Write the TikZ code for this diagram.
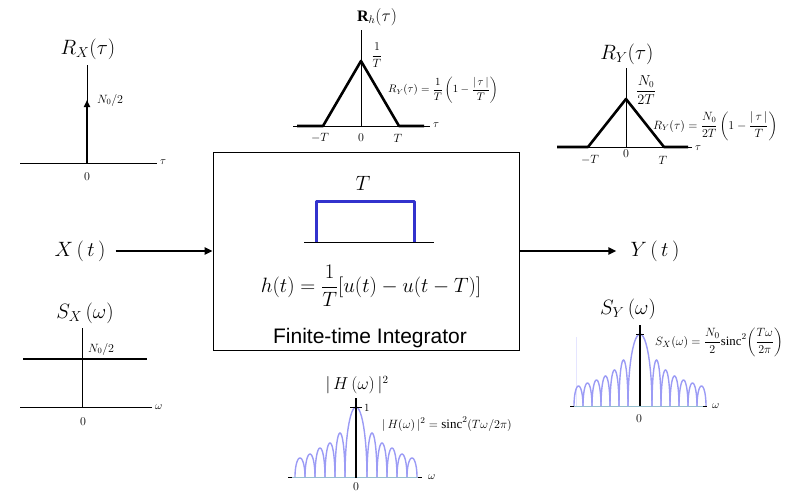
\documentclass[tikz,border=0pt]{standalone}
\usepackage{amsmath}
\usepackage{fontspec}
\setmainfont{Liberation Serif}
\newfontfamily\arialf{Liberation Sans}
\usetikzlibrary{arrows.meta}
\definecolor{lobec}{RGB}{155,155,245}
\definecolor{basec}{RGB}{150,190,205}
\definecolor{pulsec}{RGB}{50,50,205}
\begin{document}
\begin{tikzpicture}[x=1pt,y=-1pt,
  ax/.style={line width=0.8pt},
  thickg/.style={line width=2.6pt, line join=round},
  biglbl/.style={inner sep=0pt, font=\fontsize{20}{24}\selectfont},
  midlbl/.style={inner sep=0pt, font=\fontsize{16}{19}\selectfont},
  small/.style={inner sep=0pt, font=\fontsize{12}{14}\selectfont},
  eqlbl/.style={inner sep=0pt, anchor=west, font=\fontsize{10.5}{12}\selectfont},
  axlbl/.style={inner sep=0pt, anchor=west, font=\fontsize{11}{13}\selectfont},
  sig/.style={line width=2.5pt, -{Triangle[length=8pt,width=7pt]}},
  lobe/.style={draw=lobec, line width=1.4pt}]
\useasboundingbox (0,0) rectangle (798,495);

% ---------- R_X(tau) ----------
\node[biglbl] (rxl) at (88,49) {$R_X(\tau)$};
\coordinate (rxo) at (87,163);
\coordinate (rxt) at (87,65);
\coordinate (rxa) at (20,163);
\coordinate (rxb) at (157,163);
\coordinate (rxp) at (87,100);
\draw[ax] (rxa) -- (rxb);
\draw[ax] (rxo) -- (rxt);
\draw[line width=2.5pt, -{Triangle[length=7pt,width=6pt]}] (rxo) -- (rxp);
\node[small, anchor=west] (rxn) at (97,100) {$N_0/2$};
\node[axlbl] (rxtau) at (160,162) {$\tau$};
\node[small] (rx0) at (87,177) {$0$};

% ---------- R_h(tau) ----------
\node[midlbl] (rhl) at (377,17) {$\mathbf{R}_h(\tau)$};
\coordinate (rha) at (293,126);
\coordinate (rhb) at (430,126);
\coordinate (rhv1) at (361,30);
\coordinate (rhv0) at (361,126);
\draw[ax] (rha) -- (rhb);
\draw[ax] (rhv0) -- (rhv1);
\draw[thickg] (297,126) -- (323,126) -- (361,61) -- (399,126) -- (424,126);
\node[small] (rhpk) at (377,55) {$\dfrac{1}{T}$};
\node[small] (rhm) at (320,138) {$-T$};
\node[small] (rh0) at (361,138) {$0$};
\node[small] (rhp) at (398,138) {$T$};
\node[axlbl] (rhtau) at (433,125) {$\tau$};
\node[eqlbl] (rheq) at (388,90) {$R_Y(\tau)=\dfrac{1}{T}\left(1-\dfrac{|\,\tau\,|}{T}\right)$};

% ---------- R_Y(tau) ----------
\node[biglbl] (ryl) at (627,54) {$R_Y(\tau)$};
\coordinate (rya) at (557,147);
\coordinate (ryb) at (692,147);
\coordinate (ryv1) at (626,68);
\coordinate (ryv0) at (626,147);
\draw[ax] (rya) -- (ryb);
\draw[ax] (ryv0) -- (ryv1);
\draw[thickg] (557,147) -- (588,147) -- (626,99) -- (664,147) -- (688,147);
\node[inner sep=0pt, font=\fontsize{13.5}{15}\selectfont] (rypk) at (646,90) {$\dfrac{N_0}{2T}$};
\node[small] (rym) at (590,160) {$-T$};
\node[small] (ry0) at (626,154) {$0$};
\node[small] (ryp) at (663,160) {$T$};
\node[axlbl] (rytau) at (695,148) {$\tau$};
\node[eqlbl, font=\fontsize{11.5}{13}\selectfont] (ryeq) at (653,126) {$R_Y(\tau)=\dfrac{N_0}{2T}\left(1-\dfrac{|\,\tau\,|}{T}\right)$};

% ---------- system box ----------
\node[draw, line width=0.8pt, minimum width=306pt, minimum height=198pt, inner sep=0pt] (box) at (366,251) {};
\node[inner sep=0pt, font=\fontsize{22}{26}\selectfont] (tlab) at (363,183) {$T$};
\draw[line width=0.9pt] (304,242) -- (434,242);
\draw[pulsec, line width=3pt, line join=round] (316,242) -- (316,201) -- (414,201) -- (414,242);
\node[inner sep=0pt, font=\fontsize{22.5}{27}\selectfont] (heq) at (371,286) {$h(t)=\dfrac{1}{T}[u(t)-u(t-T)]$};
\node[inner sep=0pt, anchor=base, font=\arialf\fontsize{21}{24}\selectfont] (fti) at (370,343) {Finite-time Integrator};

% ---------- input / output ----------
\node[biglbl] (xt) at (80,251) {$X\,(\,t\,)$};
\node[biglbl] (yt) at (655,251) {$Y\,(\,t\,)$};
\draw[sig] ([xshift=10pt]xt.east) -- (box.west);
\draw[sig] (box.east) -- ([xshift=-14pt]yt.west);

% ---------- S_X(omega) ----------
\node[biglbl] (sxl) at (85,313) {$S_X\,(\omega)$};
\coordinate (sxa) at (20,407);
\coordinate (sxb) at (152,407);
\coordinate (sxv1) at (82,328);
\coordinate (sxv0) at (82,407);
\draw[ax] (sxa) -- (sxb);
\draw[ax] (sxv0) -- (sxv1);
\draw[line width=2pt] (23,359) -- (147,359);
\node[small, anchor=west] (sxn) at (88,349) {$N_0/2$};
\node[axlbl] (sxom) at (155,407) {$\omega$};
\node[small] (sx0) at (83,422) {$0$};

% ---------- |H(omega)|^2 ----------
\node[midlbl] (hl) at (357,385) {$|\,H\,(\omega)\,|^2$};
\draw[basec, line width=1pt] (288,477) -- (422,477);
\foreach \c/\w/\h in {356/11/70, 372/5/44, 382/5/34, 392/5/29, 402/5/23, 412/5/19,
                      340/5/44, 330/5/34, 320/5/29, 310/5/23, 300/5/19}
  \draw[lobe] plot[domain=180:0, samples=25] ({\c+\w*cos(\x)},{477-\h*sin(\x)});
\draw[ax] (288,477) -- (292,477);
\draw[ax] (418,477) -- (422,477);
\coordinate (hv0) at (356,478);
\coordinate (hv1) at (356,398);
\draw[line width=1.2pt] (hv0) -- (hv1);
\draw[line width=0.8pt] (350,407) -- (362,407);
\node[axlbl] (h1) at (364,408) {$1$};
\node[eqlbl, font=\fontsize{13}{15}\selectfont] (heq2) at (382,424) {$|\,H(\omega)\,|^2=\mathrm{sinc}^2(T\omega/2\pi)$};
\node[axlbl] (hom) at (428,477) {$\omega$};
\node[small] (h0) at (356,487) {$0$};

% ---------- S_Y(omega) ----------
\node[biglbl] (syl) at (628,309) {$S_Y\,(\omega)$};
\draw[blue!10, line width=0.6pt] (576,337) -- (576,406);
\draw[basec, line width=1pt] (570,406) -- (707,406);
\foreach \c/\w/\h in {640/12/72, 656.5/4.5/46, 665.5/4.5/36, 674.5/4.5/30, 683.5/4.5/26, 692.5/4.5/23, 701.5/4.5/20,
                      623.5/4.5/46, 614.5/4.5/36, 605.5/4.5/30, 596.5/4.5/26, 587.5/4.5/23, 578.5/4.5/20}
  \draw[lobe] plot[domain=180:0, samples=25] ({\c+\w*cos(\x)},{406-\h*sin(\x)});
\draw[ax] (570,406) -- (574,406);
\draw[ax] (703,406) -- (707,406);
\coordinate (syv0) at (640,406);
\coordinate (syv1) at (640,325);
\draw[line width=1.2pt] (syv0) -- (syv1);
\draw[line width=0.8pt] (636,334) -- (644,334);
\node[eqlbl, font=\fontsize{12.8}{15}\selectfont] (syeq) at (655,342) {$S_X(\omega)=\dfrac{N_0}{2}\mathrm{sinc}^2\!\left(\dfrac{T\omega}{2\pi}\right)$};
\node[axlbl] (syom) at (712,406) {$\omega$};
\node[small] (sy0) at (639,419) {$0$};
\end{tikzpicture}
\end{document}
